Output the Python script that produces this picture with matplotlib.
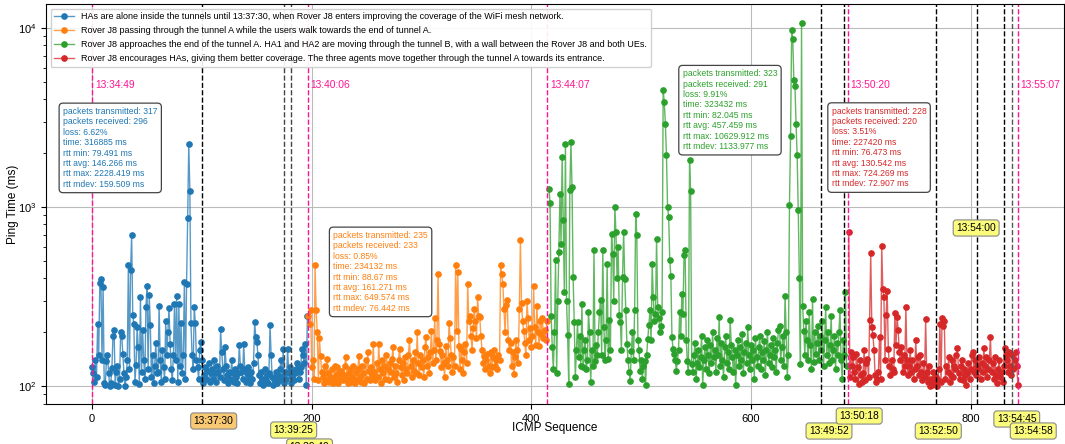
import numpy as np
import matplotlib
matplotlib.use("Agg")
import matplotlib.pyplot as plt

plt.rcParams['font.family'] = ['Liberation Sans', 'DejaVu Sans']
plt.rcParams['mathtext.fontset'] = 'custom'
plt.rcParams['mathtext.rm'] = 'Liberation Sans'
plt.rcParams['mathtext.it'] = 'Liberation Sans:italic'
plt.rcParams['mathtext.bf'] = 'Liberation Sans:bold'

# Datos ---------------------------------------------------------------------
# Fase 1 (azul): secuencia 0..196
ping_azul = [
    128, 118, 106, 140, 112, 222, 150, 376, 395, 140,
    360, 104, 102, 138, 150, 118, 100, 104, 126, 190,
    205, 102, 120, 130, 100, 110, 201, 190, 151, 118,
    100, 112, 140, 474, 125, 445, 695, 249, 221, 105,
    132, 214, 166, 103, 315, 120, 205, 140, 110, 278,
    362, 125, 323, 219, 112, 150, 104, 130, 174, 118,
    120, 281, 140, 105, 160, 128, 110, 231, 150, 201,
    274, 173, 124, 108, 150, 286, 140, 318, 105, 287,
    130, 224, 118, 150, 381, 110, 374, 865, 2250, 1233,
    224, 150, 125, 278, 224, 140, 128, 110, 160, 177,
    140, 104, 115, 128, 110, 122, 135, 106, 118, 125,
    110, 140, 118, 105, 130, 120, 112, 208, 155, 125,
    108, 166, 130, 115, 104, 120, 110, 140, 118, 105,
    125, 112, 104, 118, 170, 130, 120, 110, 173, 125,
    106, 118, 128, 112, 104, 120, 110, 135, 229, 188,
    177, 149, 115, 104, 120, 110, 102, 125, 108, 115,
    104, 118, 219, 149, 112, 102, 110, 120, 104, 115,
    108, 125, 140, 112, 161, 104, 120, 110, 161, 118,
    128, 104, 112, 120, 108, 118, 125, 134, 110, 120,
    128, 162, 150, 135, 173, 101, 247]
inicio_azul = 0

# Fase 2 (naranja)
ping_naranja = [
    248, 223, 265, 128, 140, 110, 472, 265, 200, 108,
    186, 147, 120, 112, 104, 130, 108, 142, 118, 105,
    112, 125, 104, 108, 130, 115, 128, 104, 118, 110,
    122, 108, 115, 130, 145, 110, 104, 118, 125, 106,
    112, 130, 104, 120, 108, 125, 148, 112, 106, 130,
    118, 104, 140, 110, 155, 122, 108, 128, 115, 172,
    120, 108, 135, 112, 172, 125, 104, 140, 118, 130,
    110, 150, 125, 108, 135, 120, 142, 165, 112, 130,
    118, 105, 140, 162, 128, 115, 135, 108, 145, 125,
    118, 150, 181, 130, 112, 140, 122, 155, 118, 200,
    135, 115, 150, 128, 140, 112, 165, 188, 130, 145,
    118, 155, 204, 135, 160, 241, 140, 180, 424, 172,
    158, 128, 150, 135, 112, 168, 140, 130, 226, 185,
    150, 120, 145, 130, 472, 204, 433, 168, 125, 162,
    140, 118, 155, 172, 135, 373, 232, 245, 190, 160,
    210, 270, 230, 185, 314, 248, 243, 190, 160, 135,
    148, 125, 140, 151, 130, 118, 155, 128, 145, 160,
    130, 140, 125, 150, 140, 472, 424, 373, 270, 200,
    285, 301, 180, 160, 175, 130, 155, 117, 145, 180,
    160, 135, 270, 652, 290, 230, 204, 175, 150, 298,
    240, 180, 210, 165, 190, 361, 213, 170, 282, 200,
    168, 230, 195, 240, 185, 205, 180, 230]
inicio_naranja = 197

# Fase 3 (verde)
ping_verde = [
    1265, 1052, 248, 165, 124, 200, 504, 118, 300, 561,
    1190, 625, 1900, 850, 335, 2260, 300, 192, 103, 1240,
    2300, 1290, 406, 228, 112, 160, 228, 145, 190, 130,
    288, 128, 160, 180, 125, 140, 258, 200, 105, 160,
    130, 573, 139, 170, 150, 200, 258, 301, 150, 573,
    214, 140, 180, 483, 142, 233, 160, 710, 550, 300,
    1000, 725, 400, 598, 250, 228, 160, 406, 730, 398,
    265, 173, 140, 120, 107, 158, 200, 140, 265, 920,
    698, 180, 160, 122, 140, 110, 130, 139, 101, 150,
    184, 220, 265, 180, 483, 314, 230, 253, 666, 276,
    240, 200, 218, 260, 4520, 3850, 2920, 1940, 1000, 880,
    508, 410, 188, 162, 152, 140, 122, 139, 160, 258,
    190, 328, 253, 538, 573, 180, 139, 120, 1820, 1230,
    133,
    120, 150, 175, 110, 135, 160, 128, 145, 190, 101,
    140, 165, 125, 180, 150, 118, 170, 135, 200, 145,
    160, 120, 185, 150, 243, 130, 175, 140, 112, 165,
    190, 135, 155, 125, 233, 170, 145, 120, 160, 101,
    150, 180, 130, 165, 140, 195, 118, 155, 175, 135,
    214, 150, 125, 170, 140, 160, 110, 185, 145, 130,
    165, 190, 125, 155, 140, 178, 115, 160, 200, 135,
    150, 170, 128, 185, 145, 160, 120, 175, 205, 218,
    140, 165, 190, 130,
    320, 200, 112, 150, 1020, 2500, 9700, 8700, 5130, 4730,
    2920, 1940, 960, 400, 133, 10630, 282, 204,
    150, 230, 180, 140, 260, 170, 125, 307, 136, 200,
    152, 175, 218, 140, 190, 160, 230, 130, 180, 276,
    150, 200, 135, 170, 245, 140, 160, 190, 125, 175,
    150, 200, 265, 140, 110, 180, 150, 335, 130]
inicio_verde = 416

# Fase 4 (rojo)
ping_rojo = [
    725, 112, 155, 130, 145, 120, 110, 152, 128, 103,
    140, 115, 105, 118, 160, 108, 135, 142, 112, 233,
    553, 213, 192, 160, 115, 105, 110, 120, 188, 110,
    603, 350, 314, 140, 250, 342, 162, 130, 115, 140,
    125, 120, 256, 170, 243, 206, 155, 140, 165, 120,
    150, 130, 276, 140, 115, 130, 160, 120, 140, 110,
    125, 180, 130, 145, 115, 150, 120, 108, 135, 112,
    236, 120, 105, 130, 100, 110, 102, 120, 105, 112,
    100, 108, 125, 223, 105, 240, 218, 230, 110, 130,
    120, 145, 105, 115, 140, 112, 130, 125, 150, 163,
    118, 110, 130, 140, 108, 125, 115, 102, 118, 135,
    110, 125, 150, 155, 120, 140, 115, 130, 125, 145,
    110, 135, 120, 163, 130, 145, 112, 125, 140, 189,
    120, 135, 110, 145, 115, 104, 125, 140, 112, 120,
    105, 130, 163, 150, 140, 120, 155, 130, 115, 150,
    125, 140, 155, 130, 102]
inicio_rojo = 689

etiquetas = [
    "HAs are alone inside the tunnels until 13:37:30, when Rover J8 enters improving the coverage of the WiFi mesh network.",
    "Rover J8 passing through the tunnel A while the users walk towards the end of tunnel A.",
    "Rover J8 approaches the end of the tunnel A. HA1 and HA2 are moving through the tunnel B, with a wall between the Rover J8 and both UEs.",
    "Rover J8 encourages HAs, giving them better coverage. The three agents move together through the tunnel A towards its entrance.",
]

estadisticas = [
    "packets transmitted: 317\npackets received: 296\nloss: 6.62%\ntime: 316885 ms\nrtt min: 79.491 ms\nrtt avg: 146.266 ms\nrtt max: 2228.419 ms\nrtt mdev: 159.509 ms",
    "packets transmitted: 235\npackets received: 233\nloss: 0.85%\ntime: 234132 ms\nrtt min: 88.67 ms\nrtt avg: 161.271 ms\nrtt max: 649.574 ms\nrtt mdev: 76.442 ms",
    "packets transmitted: 323\npackets received: 291\nloss: 9.91%\ntime: 323432 ms\nrtt min: 82.045 ms\nrtt avg: 457.459 ms\nrtt max: 10629.912 ms\nrtt mdev: 1133.977 ms",
    "packets transmitted: 228\npackets received: 220\nloss: 3.51%\ntime: 227420 ms\nrtt min: 76.473 ms\nrtt avg: 130.542 ms\nrtt max: 724.269 ms\nrtt mdev: 72.907 ms",
]
pos_estadisticas = [(0.0167, 0.7425), (0.2822, 0.4325), (0.6254, 0.8368), (0.7718, 0.7433)]

# lineas rosas (inicio de cada fase)
horas_fase = ["13:34:49", "13:40:06", "13:44:07", "13:50:20", "13:55:07"]
seq_fase = [0, 196.5, 414.5, 688, 843]

# lineas negras (eventos)
horas_evento = ["13:37:30", "13:39:25", "13:39:40", "13:49:52", "13:50:18", "13:52:50", "13:54:00", "13:54:45", "13:54:58"]
seq_evento = [100, 174.5, 181, 664, 684.5, 768, 806, 830.5, 837.5]
color_linea_evento = ['k', '#444444', '#444444', 'k', 'k', 'k', 'k', 'k', '#555555']
# posicion de las cajas de hora (x en secuencia, y en fraccion del eje)
x_caja = [110.7, 183.5, 198, 671, 698.5, 770.5, 805, 842, 857]
y_caja = [-0.0425, -0.065, -0.1075, -0.0675, -0.03, -0.0675, 0.44, -0.0375, -0.0675]
color_caja = ['#f9c872', '#fbfb7c', '#fbfb7c', '#fbfb7c', '#fbfb7c', '#fbfb7c', '#fbfb7c', '#fbfb7c', '#fbfb7c']

colores = ['tab:blue', 'tab:orange', 'tab:green', 'tab:red']

# Grafica ----------------------------------------------------------------------
fig = plt.figure(figsize=(10.65, 4.44), dpi=100)
ax = fig.add_axes([46 / 1065, 40 / 444, 1018 / 1065, 400 / 444])

fases = [(inicio_azul, ping_azul), (inicio_naranja, ping_naranja),
         (inicio_verde, ping_verde), (inicio_rojo, ping_rojo)]
for (inicio, valores), c, lab in zip(fases, colores, etiquetas):
    x = np.arange(inicio, inicio + len(valores))
    rgba = matplotlib.colors.to_rgba(c)
    ax.plot(x, valores, marker='o', markersize=3.8, linewidth=1.0,
            color=rgba[:3] + (0.75,), markerfacecolor=c, markeredgecolor=c, label=lab)

ax.set_yscale('log')
ax.set_xlim(-42, 885)
ax.set_ylim(79.5, 13600)
ax.grid(True, which='major', color='#bbbbbb', linewidth=0.8)
ax.set_axisbelow(True)

for s, h in zip(seq_fase, horas_fase):
    ax.axvline(s, color='deeppink', linestyle='--', linewidth=1)
    ax.text(s + 2.5, 4790, h, color='deeppink', fontsize=7.4, va='center', ha='left')

for s, c in zip(seq_evento, color_linea_evento):
    ax.axvline(s, color=c, linestyle='--', linewidth=1)

tr = ax.get_xaxis_transform()
for h, xc, yc, cc in zip(horas_evento, x_caja, y_caja, color_caja):
    ax.text(xc, yc, h, transform=tr, fontsize=7.4, ha='center', va='center', clip_on=False,
            bbox=dict(boxstyle='round,pad=0.3', facecolor=cc, edgecolor='#888888', linewidth=0.8))

for txt, (px, py), c in zip(estadisticas, pos_estadisticas, colores):
    ax.text(px, py, txt, transform=ax.transAxes, fontsize=6.2, color=c, ha='left', va='top',
            linespacing=1.2,
            bbox=dict(boxstyle='round,pad=0.45', facecolor='white', edgecolor='#444444', linewidth=0.9))

ax.legend(loc='upper left', fontsize=6.5, labelspacing=0.55, handlelength=2.2,
          borderaxespad=0.5, framealpha=0.9)

ax.set_xlabel('ICMP Sequence', fontsize=8.5, labelpad=-1)
ax.set_ylabel('Ping Time (ms)', fontsize=8.5, labelpad=-1)
ax.tick_params(labelsize=8)

fig.savefig('out.png', dpi=100)
